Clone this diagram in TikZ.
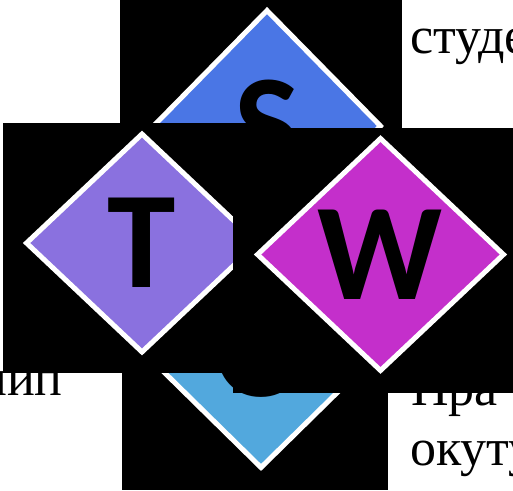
\documentclass[tikz,border=0pt]{standalone}
\usepackage{fontspec}
\setmainfont{Liberation Serif}
\newfontfamily\tilefont{Carlito}
\usetikzlibrary{shapes.geometric}
\definecolor{sblue}{RGB}{74,118,229}
\definecolor{tpurple}{RGB}{138,113,223}
\definecolor{wmagenta}{RGB}{196,47,203}
\definecolor{oblue}{RGB}{82,168,221}

\begin{document}
\begin{tikzpicture}[x=1pt,y=-1pt,
 tile/.style={diamond,draw=white,line width=5pt,inner sep=0pt,
   font=\tilefont\bfseries\fontsize{138}{138}\selectfont,text=black},
 word/.style={inner sep=0pt,anchor=base west,
   font=\fontsize{52}{60}\selectfont}]
 \useasboundingbox (0,0) rectangle (513,490);
 \clip (0,0) rectangle (513,490);
 % text lying behind the tiles
 \node[word] (stud) at (410,53) {студе};
 \node[word] (pra) at (411,405) {Пра};
 \node[word] (okut) at (410,465) {окуту};
 \node[word,anchor=base east] (iip) at (63,395) {иип};
 % S
 \fill (120,0) rectangle (402,260);
 \node[tile,fill=sblue,minimum width=229,minimum height=233] (s) at (267,126) {S};
 % O
 \fill (122,250) rectangle (388,490);
 \node[tile,fill=oblue,minimum width=237,minimum height=233] (o) at (261,352) {O};
 % T
 \fill (3,123) rectangle (262,373);
 \node[tile,fill=tpurple,minimum width=233,minimum height=220] (t) at (142,243) {T};
 % W
 \fill (233,128) rectangle (520,393);
 \node[tile,fill=wmagenta,minimum width=248,minimum height=234] (w) at (380.5,254.5) {W};
\end{tikzpicture}
\end{document}
